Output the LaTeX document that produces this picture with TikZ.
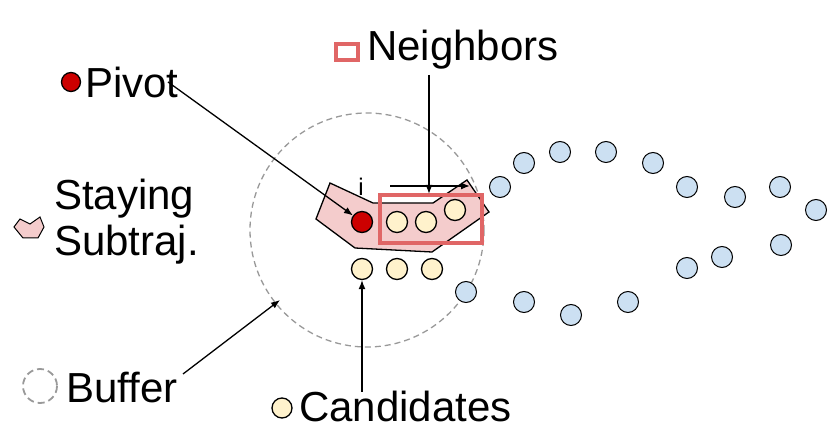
\documentclass[tikz,border=0pt]{standalone}
\usepackage{fontspec}
\setmainfont{Liberation Sans}
\usetikzlibrary{arrows.meta}
\begin{document}
\begin{tikzpicture}[x=1pt,y=-1pt,
  lbl/.style={font=\fontsize{42}{46}\selectfont,anchor=west,inner sep=0},
  blue/.style={circle,draw=black,minimum size=21pt,inner sep=0,line width=1pt},
  yel/.style={circle,draw=black,minimum size=21pt,inner sep=0,line width=1.3pt},
  arr/.style={-{Latex[length=9pt,width=7pt]},line width=1.3pt}]
\useasboundingbox (0,0) rectangle (830,427);
\definecolor{bl}{RGB}{204,224,242}
\definecolor{yl}{RGB}{255,242,204}
\definecolor{pk}{RGB}{244,204,204}
\definecolor{rd}{RGB}{204,0,0}
\definecolor{nb}{RGB}{224,102,102}
\tikzset{blue/.append style={fill=bl},yel/.append style={fill=yl}}
\draw[gray!80,line width=1.3pt,dash pattern=on 6pt off 4pt] (367,230) circle (117);
\coordinate (bufpt) at (280,300);
\draw[fill=pk,line width=1.3pt] (316,219)--(330,183)--(373,203)--(433,203)--(467,180)--(489,212)--(432,252)--(355,248)--cycle;
\draw[nb,line width=3.5pt] (380,195) rectangle (482,243);
\node[circle,draw=black,fill=rd,minimum size=21pt,inner sep=0,line width=1.3pt] (piv) at (362,222) {};
\node[yel] (n1) at (397,222) {};
\node[yel] (n2) at (426,222) {};
\node[yel] (n3) at (455,210) {};
\node[yel] (c1) at (362,269) {};
\node[yel] (c2) at (397,269) {};
\node[yel] (c3) at (432,269) {};
\node[font=\fontsize{24}{26}\selectfont] (i) at (361,187) {i};
\coordinate (h1) at (390,186); \coordinate (h2) at (470,186);
\draw[arr] (h1)--(h2);
\foreach \p [count=\k] in {(524,163),(560,152),(606,152),(653,163),(687,187),(735,197),(780,187),(816,210),(500,187),(781,245),(722,257),(687,268),(628,302),(571,315),(524,302),(466,292)}
  \node[blue] (b\k) at \p {};
% legend
\node[circle,draw=black,fill=rd,minimum size=19pt,inner sep=0,line width=1.3pt] (lp) at (71,82) {};
\node[lbl] (tp) at (85,82) {Pivot};
\draw[nb,line width=3.5pt] (336,44) rectangle (358,60);
\node[lbl] (tn) at (367,50) {Neighbors};
\draw[fill=pk,line width=1pt] (14,227)--(20,219)--(30,224)--(40,217)--(44,227)--(38,238)--(23,238)--cycle;
\node[lbl,align=left] (ts) at (54,222) {Staying\\Subtraj.};
\draw[gray!80,line width=1.8pt,dash pattern=on 7pt off 4pt] (40,386) circle (17);
\node[lbl] (tb) at (66,388) {Buffer};
\node[yel,minimum size=20pt] (ly) at (282,408) {};
\node[lbl] (tc) at (299,406) {Candidates};
% arrows
\coordinate (pa) at (168,82);
\draw[arr] (pa)--(piv);
\coordinate (na) at (429,75);
\draw[arr] (na)--(429,194);
\coordinate (ca) at (362,392);
\draw[arr] (ca)--(c1);
\coordinate (ba) at (183,374);
\draw[arr] (ba)--(bufpt);
\end{tikzpicture}
\end{document}
